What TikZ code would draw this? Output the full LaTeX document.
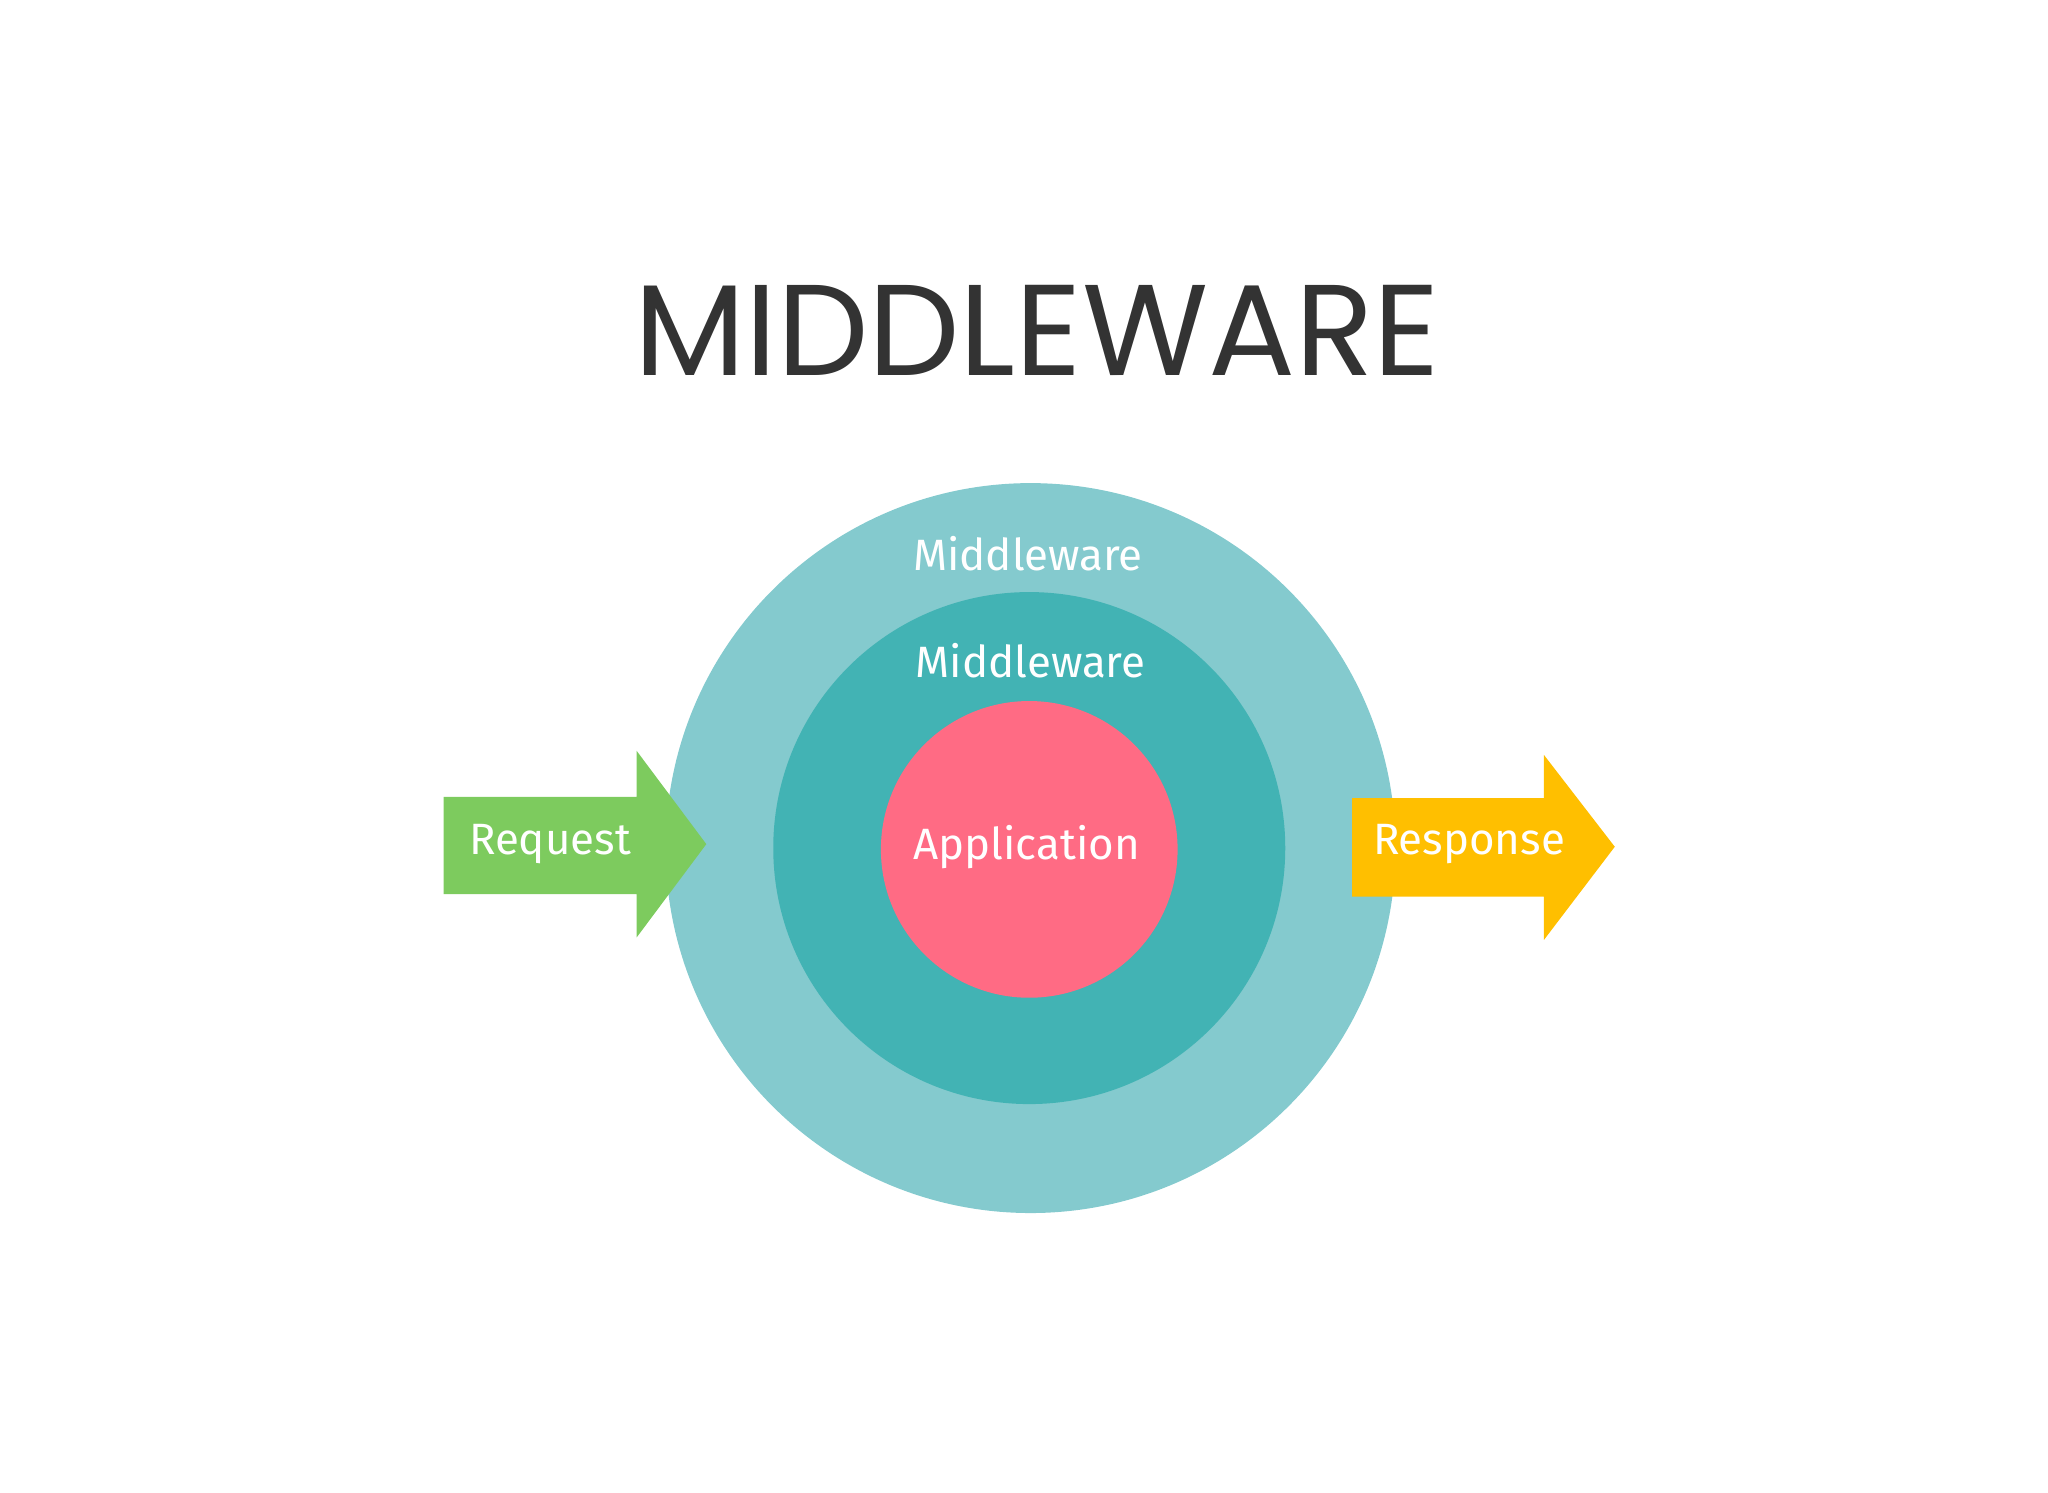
\documentclass[tikz,border=0pt]{standalone}
\usepackage{fontspec}
\setmainfont{Fira Sans}
\newfontfamily\titlefont{Poppins}
\definecolor{outerc}{HTML}{84CACE}
\definecolor{midc}{HTML}{42B3B4}
\definecolor{appc}{HTML}{FF6B84}
\definecolor{reqc}{HTML}{7DCB5E}
\definecolor{resc}{HTML}{FFBF00}
\definecolor{titlec}{HTML}{333333}
\begin{document}
\begin{tikzpicture}[x=0.01cm,y=-0.01cm,
  lbl/.style={text=white,font=\fontsize{9.5}{11}\selectfont}]
\useasboundingbox (0,0) rectangle (1560,1137);
\node[text=titlec,font=\titlefont\fontsize{28}{32}\selectfont] (title) at (790,252) {MIDDLEWARE};
\fill[outerc] (785,646) circle (278);
\fill[midc] (784,646) circle (195);
\fill[appc] (784,647) circle (113);
\fill[reqc] (338,607) -- (485,607) -- (485,572) -- (538,643) -- (485,714) -- (485,681) -- (338,681) -- cycle;
\fill[resc] (1030,608) -- (1176,608) -- (1176,575) -- (1230,645) -- (1176,716) -- (1176,683) -- (1030,683) -- cycle;
\node[lbl] (mw1) at (783,422) {Middleware};
\node[lbl] (mw2) at (785,503) {Middleware};
\node[lbl] (app) at (782,645) {Application};
\node[lbl] (req) at (419,643) {Request};
\node[lbl] (res) at (1119,643) {Response};
\end{tikzpicture}
\end{document}
